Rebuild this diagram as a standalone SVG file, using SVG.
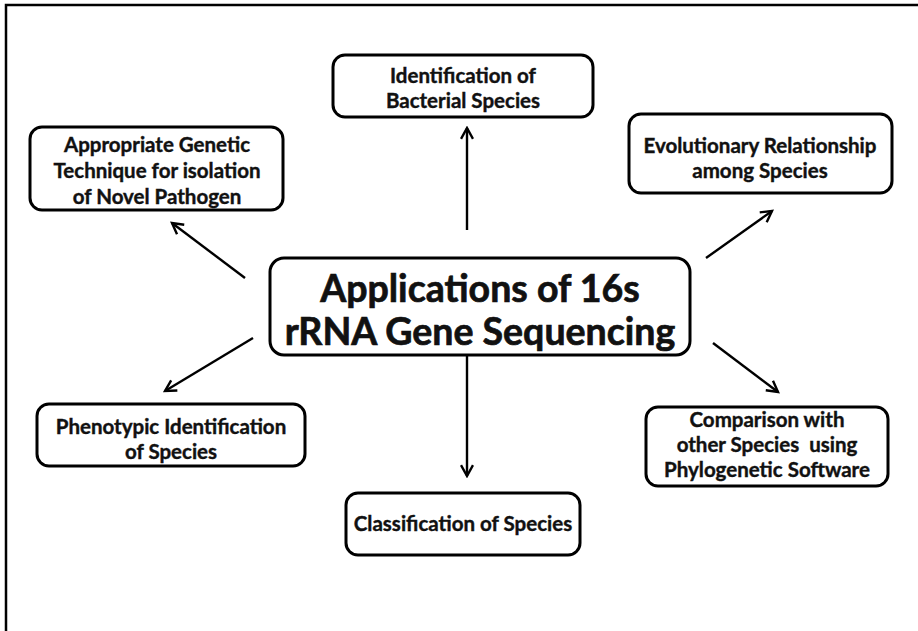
<svg xmlns="http://www.w3.org/2000/svg" width="918" height="631" viewBox="0 0 918 631">
<style>
.box{fill:#fff;stroke:#000;stroke-width:3}
.t{font-family:Lato,"Open Sans",sans-serif;font-weight:bold;font-size:20.5px;fill:#111;stroke:#111;stroke-width:0.4;text-anchor:middle}
.big{font-size:37.5px;stroke-width:0.7}
.c{stroke:#000;stroke-width:2.4;fill:none;marker-end:url(#ah)}
</style>
<defs>
<marker id="ah" viewBox="0 0 12 12" refX="10" refY="6" markerWidth="6" markerHeight="6" orient="auto" markerUnits="strokeWidth">
<path d="M1,1 L10,6 L1,11" fill="none" stroke="#000" stroke-width="2"/>
</marker>
</defs>
<rect width="918" height="631" fill="#fff"/>
<path d="M6,640 L6,5 L930,5" fill="none" stroke="#000" stroke-width="2.5"/>
<g id="connectors">
<line class="c" x1="467" y1="230" x2="467" y2="128"/>
<line class="c" x1="245" y1="278" x2="172" y2="223"/>
<line class="c" x1="706" y1="258" x2="772" y2="211"/>
<line class="c" x1="253" y1="338" x2="165" y2="391"/>
<line class="c" x1="467" y1="356" x2="467" y2="476"/>
<line class="c" x1="713" y1="343" x2="778" y2="392"/>
</g>
<g id="center">
<rect class="box" x="270" y="258" width="420" height="97" rx="14"/>
<text class="t big" x="480" y="302">Applications of 16s</text>
<text class="t big" x="480" y="345">rRNA Gene Sequencing</text>
</g>
<g id="n-top">
<rect class="box" x="333" y="55" width="260" height="62" rx="12"/>
<text class="t" x="463" y="83">Identification of</text>
<text class="t" x="463" y="108">Bacterial Species</text>
</g>
<g id="n-topleft">
<rect class="box" x="30" y="127" width="253" height="83" rx="12"/>
<text class="t" x="157" y="152">Appropriate Genetic</text>
<text class="t" x="157" y="178">Technique for isolation</text>
<text class="t" x="157" y="204">of Novel Pathogen</text>
</g>
<g id="n-topright">
<rect class="box" x="629" y="114" width="263" height="79" rx="12"/>
<text class="t" x="760" y="153">Evolutionary Relationship</text>
<text class="t" x="760" y="178">among Species</text>
</g>
<g id="n-bottomleft">
<rect class="box" x="37" y="404" width="268" height="62" rx="12"/>
<text class="t" x="171" y="434">Phenotypic Identification</text>
<text class="t" x="171" y="459">of Species</text>
</g>
<g id="n-bottom">
<rect class="box" x="346" y="493" width="234" height="62" rx="12"/>
<text class="t" x="463" y="531">Classification of Species</text>
</g>
<g id="n-bottomright">
<rect class="box" x="646" y="407" width="242" height="79" rx="12"/>
<text class="t" x="767" y="427">Comparison with</text>
<text class="t" x="767" y="452" xml:space="preserve">other Species  using</text>
<text class="t" x="767" y="477">Phylogenetic Software</text>
</g>
</svg>
